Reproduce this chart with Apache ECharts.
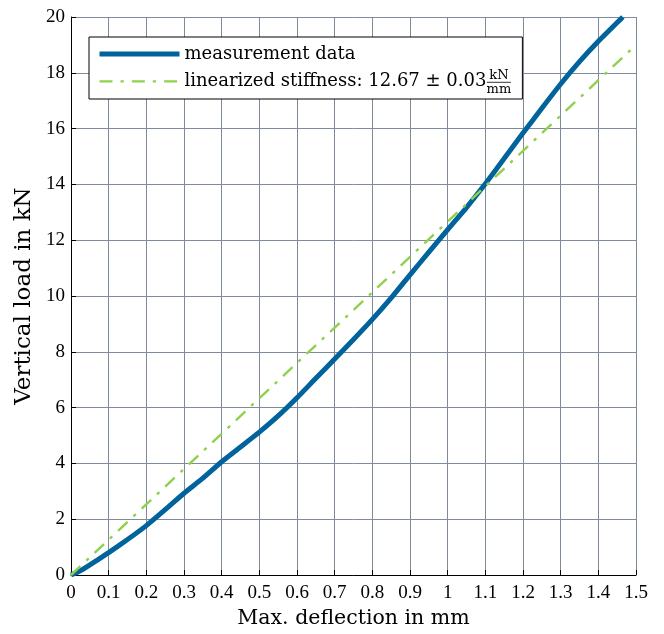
<!DOCTYPE html>
<html>
<head>
<meta charset="utf-8">
<script src="https://cdn.jsdelivr.net/npm/echarts@6/dist/echarts.min.js"></script>
<style>
html,body{margin:0;padding:0;background:#fff;}
#chart{width:664px;height:634px;}
</style>
</head>
<body>
<div id="chart"></div>
<script>
// ---- data ----
const measX = [0, 0.025, 0.05, 0.075, 0.1, 0.15, 0.2, 0.25, 0.3, 0.35, 0.4, 0.45, 0.5, 0.55, 0.6, 0.65, 0.7, 0.75, 0.8, 0.85, 0.9, 0.95, 1.0, 1.05, 1.1, 1.15, 1.2, 1.25, 1.3, 1.35, 1.4, 1.45, 1.465];
const measY = [0, 0.15, 0.36, 0.58, 0.8, 1.27, 1.77, 2.34, 2.93, 3.47, 4.06, 4.59, 5.12, 5.70, 6.35, 7.05, 7.74, 8.44, 9.16, 9.93, 10.76, 11.57, 12.38, 13.17, 14.02, 14.93, 15.84, 16.73, 17.60, 18.40, 19.13, 19.80, 20.0];
const fitX = [0, 1.5];
const fitY = [0, 19.0];
const measName = 'measurement data';
const fitName = 'linearized stiffness: 12.67 \u00b1 0.03';
const unitNum = 'kN';
const unitDen = 'mm';
const xTitle = 'Max. deflection in mm';
const yTitle = 'Vertical load in kN';

const chart = echarts.init(document.getElementById('chart'), null, {renderer: 'canvas'});

const legendFont = '18px "DejaVu Serif"';
const ctx = document.createElement('canvas').getContext('2d');
ctx.font = legendFont;
const fitW = ctx.measureText(fitName).width;

const legendLeft = 89, legendTop = 37, padL = 8, iconW = 80;
const textStart = legendLeft + padL + iconW + 5;
const fracLeft = textStart + fitW + 3;
const fracW = 24;

const gridColor = '#7f8a9b';
const blue = '#00639b';
const green = '#8fd14f';
const fitDash = [13, 8, 3.3, 8];

const option = {
  animation: false,
  backgroundColor: '#fff',
  grid: {left: 71, right: 28, top: 17, bottom: 55, containLabel: false},
  xAxis: {
    type: 'value', min: 0, max: 1.5, interval: 0.1,
    name: xTitle, nameLocation: 'middle', nameGap: 33,
    nameTextStyle: {fontFamily: 'DejaVu Serif', fontSize: 20.5, color: '#000'},
    axisLine: {show: true, onZero: false, lineStyle: {color: '#000', width: 1}},
    axisTick: {show: true, inside: true, length: 5, lineStyle: {color: '#000'}},
    axisLabel: {fontFamily: 'Liberation Serif', fontSize: 19, color: '#000', margin: 9},
    splitLine: {show: true, lineStyle: {color: gridColor, width: 1}}
  },
  yAxis: {
    type: 'value', min: 0, max: 20, interval: 2,
    name: yTitle, nameLocation: 'middle', nameGap: 29,
    nameTextStyle: {fontFamily: 'DejaVu Serif', fontSize: 23, color: '#000'},
    axisLine: {show: true, onZero: false, lineStyle: {color: '#000', width: 1}},
    axisTick: {show: true, inside: true, length: 5, lineStyle: {color: '#000'}},
    axisLabel: {fontFamily: 'Liberation Serif', fontSize: 19, color: '#000', margin: 6},
    splitLine: {show: true, lineStyle: {color: gridColor, width: 1}}
  },
  legend: {
    orient: 'vertical', left: legendLeft, top: legendTop,
    padding: [6, 9, 6.6, padL],
    itemWidth: iconW, itemHeight: 14, itemGap: 5.4,
    backgroundColor: '#fff', borderColor: '#000', borderWidth: 1, borderRadius: 0,
    data: [
      {name: measName, itemStyle: {opacity: 0}, lineStyle: {color: blue, width: 5, type: 'solid'}},
      {name: fitName, itemStyle: {opacity: 0}, lineStyle: {color: green, width: 2.4, type: fitDash}}
    ],
    formatter: function (n) { return n === fitName ? n + '{sp|}' : n; },
    textStyle: {fontFamily: 'DejaVu Serif', fontSize: 18, color: '#000', lineHeight: 22,
      rich: {sp: {width: fracW + 3, height: 22}}}
  },
  series: [
    {
      name: measName, type: 'line', showSymbol: false, symbol: 'none', smooth: 0.15,
      data: measX.map((x, i) => [x, measY[i]]),
      lineStyle: {color: blue, width: 5}, itemStyle: {color: blue},
      z: 2, clip: true
    },
    {
      name: fitName, type: 'line', showSymbol: false, symbol: 'none',
      data: fitX.map((x, i) => [x, fitY[i]]),
      lineStyle: {color: green, width: 2.4, type: fitDash}, itemStyle: {color: green},
      z: 3, clip: true
    }
  ],
  graphic: [
    {type: 'text', z: 100, x: fracLeft + fracW / 2, y: 75.5,
      style: {text: unitNum, font: '13px "DejaVu Serif"', fill: '#000', align: 'center', verticalAlign: 'middle'}},
    {type: 'line', z: 100, shape: {x1: fracLeft, y1: 82.3, x2: fracLeft + fracW, y2: 82.3},
      style: {stroke: '#000', lineWidth: 0.8}},
    {type: 'text', z: 100, x: fracLeft + fracW / 2, y: 89.5,
      style: {text: unitDen, font: '13px "DejaVu Serif"', fill: '#000', align: 'center', verticalAlign: 'middle'}}
  ]
};
chart.setOption(option);
</script>
</body>
</html>
